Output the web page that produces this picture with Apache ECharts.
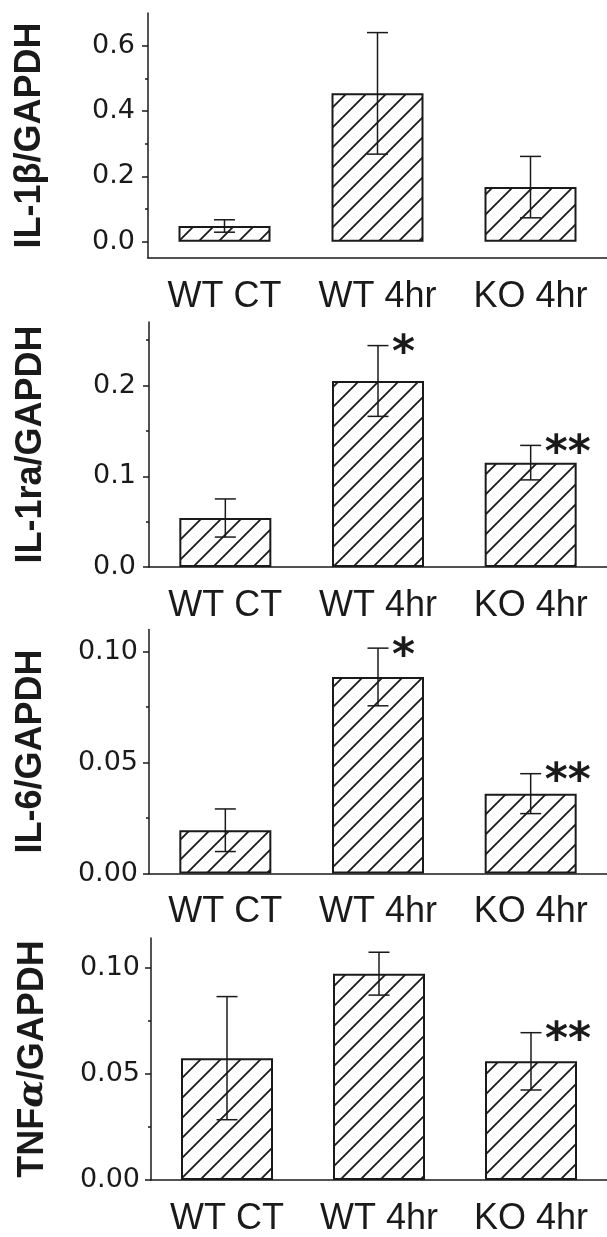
<!DOCTYPE html>
<html><head><meta charset="utf-8">
<script src="https://cdn.jsdelivr.net/npm/echarts@6/dist/echarts.min.js"></script>
<style>html,body{margin:0;padding:0;background:#fff}#c{width:607px;height:1237px}</style>
</head><body><div id="c"></div>
<script>
// ---- data ----
const categories = ['WT CT', 'WT 4hr', 'KO 4hr'];

const il1bMean = [0.048, 0.454, 0.167];
const il1bErr  = [0.019, 0.186, 0.094];
const il1bStars = ['', '', ''];
const il1bTicks = [0.0, 0.2, 0.4, 0.6];
const il1bMinor = [0.1, 0.3, 0.5];

const il1raMean = [0.054, 0.205, 0.115];
const il1raErr  = [0.021, 0.039, 0.019];
const il1raStars = ['', '*', '**'];
const il1raTicks = [0.0, 0.1, 0.2];
const il1raMinor = [0.05, 0.15, 0.25];

const il6Mean = [0.0195, 0.0886, 0.036];
const il6Err  = [0.0096, 0.013, 0.009];
const il6Stars = ['', '*', '**'];
const il6Ticks = [0.00, 0.05, 0.10];
const il6Minor = [0.025, 0.075];

const tnfMean = [0.0574, 0.0972, 0.0559];
const tnfErr  = [0.029, 0.0101, 0.0135];
const tnfStars = ['', '', '**'];
const tnfTicks = [0.00, 0.05, 0.10];
const tnfMinor = [0.025, 0.075];

// ---- hatch pattern ----
function makeHatch() {
  const s = 20, c = document.createElement('canvas');
  c.width = s; c.height = s;
  const g = c.getContext('2d');
  g.fillStyle = '#fff'; g.fillRect(0, 0, s, s);
  g.strokeStyle = '#1a1a1a'; g.lineWidth = 1.8;
  g.beginPath();
  g.moveTo(-s, s); g.lineTo(s, -s);
  g.moveTo(0, s * 2); g.lineTo(s * 2, 0);
  g.moveTo(0, s); g.lineTo(s, 0);
  g.stroke();
  return c;
}
const hatch = makeHatch();

const INK = '#1a1a1a';
const panels = [
  { name: 'IL-1β/GAPDH', mean: il1bMean, err: il1bErr, stars: il1bStars, ticks: il1bTicks, minor: il1bMinor, min: -0.05, max: 0.7, dec: 1, left: 148, top: 13, height: 245, lm: 13 },
  { name: 'IL-1ra/GAPDH', mean: il1raMean, err: il1raErr, stars: il1raStars, ticks: il1raTicks, minor: il1raMinor, min: 0, max: 0.27, dec: 1, left: 149, top: 322, height: 245, lm: 13 },
  { name: 'IL-6/GAPDH', mean: il6Mean, err: il6Err, stars: il6Stars, ticks: il6Ticks, minor: il6Minor, min: 0, max: 0.11, dec: 2, left: 149, top: 629.5, height: 244, lm: 11 },
  { name: '{b|TNF}{i|α}{b|/GAPDH}', mean: tnfMean, err: tnfErr, stars: tnfStars, ticks: tnfTicks, minor: tnfMinor, min: 0, max: 0.114, dec: 2, left: 151, top: 938, height: 244, lm: 11 }
];

const grid = [], xAxis = [], yAxis = [], series = [];
const titleFont = { fontFamily: 'Liberation Sans', fontWeight: 'bold', fontSize: 36, color: INK };

panels.forEach((p, k) => {
  grid.push({ left: p.left, top: p.top, height: p.height, width: 607 - p.left + 3, containLabel: false });
  xAxis.push({
    type: 'category', gridIndex: k, data: categories,
    axisLine: { onZero: false, lineStyle: { color: INK, width: 1.5 } },
    axisTick: { show: false },
    axisLabel: { color: INK, fontFamily: 'Liberation Sans', fontSize: 36, margin: 21, interval: 0, hideOverlap: false }
  });
  yAxis.push({
    type: 'value', gridIndex: k, min: p.min, max: p.max,
    name: p.name, nameLocation: 'middle', nameRotate: 90, nameGap: 100,
    nameTextStyle: Object.assign({}, titleFont, {
      rich: {
        b: titleFont,
        i: Object.assign({}, titleFont, { fontStyle: 'italic', fontFamily: 'DejaVu Serif' })
      }
    }),
    splitLine: { show: false },
    axisLine: { show: true, lineStyle: { color: INK, width: 1.5 } },
    axisTick: { show: true, length: 6, lineStyle: { color: INK, width: 1.5 }, customValues: p.ticks },
    axisLabel: { color: INK, fontFamily: 'DejaVu Sans', fontSize: 27, margin: p.lm,
      customValues: p.ticks, formatter: v => Number(v).toFixed(p.dec) }
  });
  yAxis.push({
    type: 'value', gridIndex: k, min: p.min, max: p.max, position: 'left',
    splitLine: { show: false },
    axisLine: { show: false },
    axisTick: { show: true, length: 3, lineStyle: { color: INK, width: 1.5 }, customValues: p.minor },
    axisLabel: { show: false }
  });
  series.push({
    type: 'bar', xAxisIndex: k, yAxisIndex: 2 * k, barWidth: 92,
    data: p.mean,
    itemStyle: { color: { image: hatch, repeat: 'repeat' }, borderColor: INK, borderWidth: 2 },
    z: 2
  });
  series.push({
    type: 'custom', xAxisIndex: k, yAxisIndex: 2 * k, z: 5,
    data: p.mean.map((m, i) => [i, m, p.err[i]]),
    renderItem: function (params, api) {
      const i = api.value(0), m = api.value(1), e = api.value(2);
      const top = api.coord([i, m + e]), bot = api.coord([i, m - e]);
      const x = top[0], hw = 10.5;
      const st = { stroke: INK, lineWidth: 1.5 };
      const ch = [
        { type: 'line', shape: { x1: x, y1: top[1], x2: x, y2: bot[1] }, style: st },
        { type: 'line', shape: { x1: x - hw, y1: top[1], x2: x + hw, y2: top[1] }, style: st },
        { type: 'line', shape: { x1: x - hw, y1: bot[1], x2: x + hw, y2: bot[1] }, style: st }
      ];
      const star = p.stars[params.dataIndex];
      if (star) ch.push({ type: 'text', style: { text: star, x: x + 14, y: top[1] + 9,
        font: 'bold 44px "DejaVu Sans"', fill: INK, align: 'left', verticalAlign: 'middle' } });
      return { type: 'group', children: ch };
    }
  });
});

const chart = echarts.init(document.getElementById('c'), null, { renderer: 'canvas' });
chart.setOption({ animation: false, backgroundColor: '#fff', grid, xAxis, yAxis, series });
</script>
</body></html>
